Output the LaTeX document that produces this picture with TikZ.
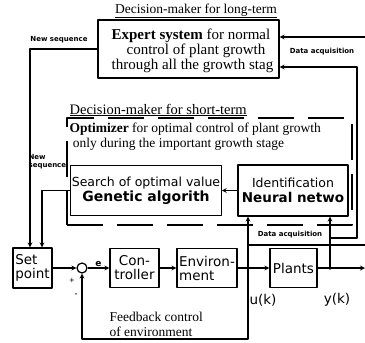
\documentclass[tikz,border=0pt]{standalone}
\usepackage{fontspec}
\setmainfont{Liberation Serif}
\setsansfont{DejaVu Sans}
\usetikzlibrary{positioning,calc}
\begin{document}
\begin{tikzpicture}[x=1pt,y=-1pt,line join=round,>=stealth,line width=1.2pt]
 \tikzset{box/.style={draw,inner sep=1pt,align=center,font=\sffamily\fontsize{13.5}{14}\selectfont},
  tiny label/.style={font=\sffamily\bfseries\fontsize{7}{8}\selectfont,inner sep=0pt},
  serif text/.style={font=\fontsize{13.5}{15}\selectfont,inner sep=0pt},
  sans text/.style={font=\sffamily\fontsize{13.5}{14}\selectfont,inner sep=0pt}}
 \useasboundingbox (0,0) rectangle (365,343);
 % long-term decision maker
 \node[serif text] (longtitle) at (196,11) {\underline{Decision-maker for long-term}};
 \node[draw,minimum width=181pt,minimum height=58pt] (expert) at (188.5,49) {};
 \node[serif text,font=\fontsize{15}{15}\selectfont,align=left,anchor=west] (experttext) at (111,51) {\textbf{Expert system} for normal\\ \quad control of plant growth\\ through all the growth stag};
 % short-term decision maker
 \node[draw,dash pattern=on 36pt off 14pt,minimum width=285pt,minimum height=107pt] (short) at (209.5,171.5) {};
 \node[serif text,font=\fontsize{14.5}{15}\selectfont,anchor=west] (shorttitle) at (69,110) {\underline{Decision-maker for short-term}};
 \node[serif text,align=left,anchor=north west] (opttext) at (69,122) {\textbf{Optimizer} for optimal control of plant growth\\ \ only during the important growth stage};
 \node[box,minimum width=148pt,minimum height=50pt] (ga) at (146,190.5)
  {\fontsize{12.5}{14}\selectfont Search of optimal value\\[1pt] {\bfseries\fontsize{14}{15}\selectfont Genetic algorith}};
 \node[box,minimum width=110pt,minimum height=51pt] (nn) at (293,190.5)
  {\fontsize{12.5}{14}\selectfont Identification\\[1pt] {\bfseries\fontsize{13.5}{15}\selectfont Neural netwo}};
 % feedback loop
 \node[box,align=left,minimum width=39pt,minimum height=40pt] (setp) at (32.5,268) {Set\\point};
 \node[draw,circle,minimum size=10pt,inner sep=0pt] (sum) at (82,268) {};
 \node[box,minimum width=49pt,minimum height=39pt] (ctrl) at (134.5,268) {Con-\\troller};
 \node[box,align=left,minimum width=60pt,minimum height=39pt] (env) at (207,268) {Environ-\\ment};
 \node[box,minimum width=47pt,minimum height=39pt] (plants) at (293.5,268) {Plants};
 \coordinate (uj) at (248,268);
 \coordinate (yj) at (330,268);
 \coordinate (out) at (365,268);
 \coordinate (fbcorner) at (248,339);
 \fill (uj) circle (1.8pt) (yj) circle (1.8pt);
 \draw[->] (setp) -- (sum);
 \draw[->] (sum) -- node[above,sans text,font=\sffamily\bfseries\fontsize{9}{9}\selectfont,yshift=1pt] (elabel) {e} (ctrl);
 \draw[->] (ctrl) -- (env);
 \draw[->] (env) -- (plants);
 \draw[->] (plants) -- (out);
 \draw[->] (uj) -- (fbcorner) -| (sum.south);
 \node[sans text,font=\bfseries\fontsize{9}{9}\selectfont] (plus) at (72,281) {+};
 \node[sans text,font=\bfseries\fontsize{9}{9}\selectfont] (minus) at (76,295) {-};
 \node[serif text,align=left,anchor=west] (fbtext) at (109,324) {Feedback control\\of environment};
 \node[sans text] (ulabel) at (263,300) {u(k)};
 \node[sans text] (ylabel) at (337,300) {y(k)};
 % data acquisition
 \draw[->] (uj) -- (uj |- nn.south);
 \draw[->] (yj) -- (yj |- nn.south);
 \coordinate (uacq) at (248,245);
 \coordinate (uacqend) at (365,245);
 \draw (uacq) -- (uacqend);
 \coordinate (ybend) at (357,238);
 \coordinate (ytop) at (357,67);
 \draw[->] (yj |- ybend) -- (ybend) -- (ytop) -- (expert.east |- ytop);
 \coordinate (acqtop) at (365,37);
 \draw[->] (acqtop) -- (expert.east |- acqtop);
 \node[tiny label] (acqlab1) at (322,52) {Data acquisition};
 \node[tiny label] (acqlab2) at (290,235) {Data acquisition};
 \draw[->] (nn) -- (ga);
 % new sequence
 \coordinate (seq1) at (30,49);
 \coordinate (seq2) at (42,190.5);
 \draw[->] (expert.west) -- (seq1) -- (seq1 |- setp.north);
 \draw[->] (ga.west) -- (seq2) -- (seq2 |- setp.north);
 \node[tiny label] (seqlab1) at (59,40) {New sequence};
 \node[tiny label,align=left,anchor=west] (seqlab2) at (28,162) {New\\sequence};
\end{tikzpicture}
\end{document}
